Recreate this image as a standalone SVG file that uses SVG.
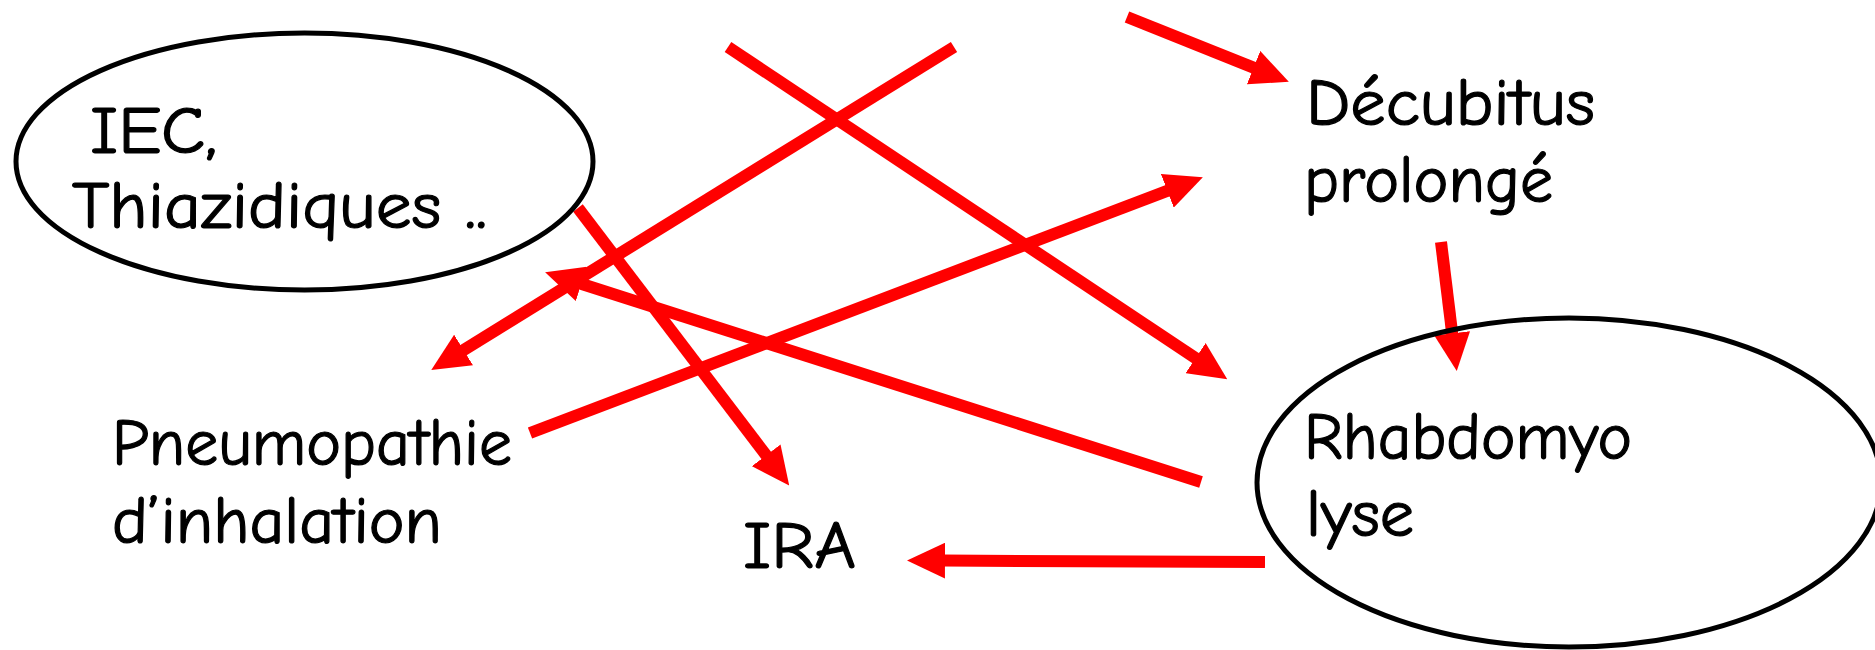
<svg xmlns="http://www.w3.org/2000/svg" width="1875" height="650" viewBox="0 0 1875 650">
<style>
.bg{fill:#ffffff}
.edge{stroke:#ff0000;stroke-width:12;fill:none;stroke-linecap:butt}
.shape{fill:none;stroke:#000000;stroke-width:5}
.lbl{font-family:"Comic Sans MS","Comic Neue","DejaVu Sans",sans-serif;font-size:66px;fill:#000000;stroke:#000000;stroke-width:1.2}
</style>
<defs>
<marker id="ah" markerUnits="userSpaceOnUse" markerWidth="38" markerHeight="36" refX="2" refY="18" orient="auto" viewBox="0 0 38 36">
<path d="M0,0 L38,18 L0,36 Z" fill="#ff0000"/>
</marker>
</defs>
<rect class="bg" x="0" y="0" width="1875" height="650"/>
<g id="connectors">
<line class="edge" x1="1127" y1="17" x2="1255.4" y2="68.4" marker-end="url(#ah)"/>
<line class="edge" x1="954" y1="47" x2="461.9" y2="351.1" marker-end="url(#ah)"/>
<line class="edge" x1="728" y1="47" x2="1197.3" y2="359.2" marker-end="url(#ah)"/>
<line class="edge" x1="530" y1="433" x2="1169.2" y2="190.1" marker-end="url(#ah)"/>
<line class="edge" x1="1201" y1="482" x2="579.4" y2="283.3" marker-end="url(#ah)"/>
<line class="edge" x1="578" y1="208" x2="767.4" y2="456.9" marker-end="url(#ah)"/>
<line class="edge" x1="1441" y1="242" x2="1452.4" y2="335.3" marker-end="url(#ah)"/>
<line class="edge" x1="1265" y1="562" x2="943" y2="560.6" marker-end="url(#ah)"/>
</g>
<g id="iec">
<ellipse class="shape" cx="304.5" cy="161.5" rx="288.5" ry="128.5"/>
<text class="lbl" x="90" y="153" textLength="127" lengthAdjust="spacingAndGlyphs">IEC,</text>
<text class="lbl" x="72" y="228" textLength="415" lengthAdjust="spacingAndGlyphs">Thiazidiques ..</text>
</g>
<g id="decubitus">
<text class="lbl" x="1306" y="125" textLength="289" lengthAdjust="spacingAndGlyphs">Décubitus</text>
<text class="lbl" x="1304" y="202" textLength="249" lengthAdjust="spacingAndGlyphs">prolongé</text>
</g>
<g id="pneumopathie">
<text class="lbl" x="112" y="465" textLength="400" lengthAdjust="spacingAndGlyphs">Pneumopathie</text>
<text class="lbl" x="112" y="543" textLength="330" lengthAdjust="spacingAndGlyphs">d’inhalation</text>
</g>
<g id="ira">
<text class="lbl" x="743" y="568" textLength="113" lengthAdjust="spacingAndGlyphs">IRA</text>
</g>
<g id="rhabdo">
<ellipse class="shape" cx="1569" cy="482.5" rx="312" ry="164.5"/>
<text class="lbl" x="1304" y="459" textLength="328" lengthAdjust="spacingAndGlyphs">Rhabdomyo</text>
<text class="lbl" x="1306" y="536" textLength="108" lengthAdjust="spacingAndGlyphs">lyse</text>
</g>
</svg>
